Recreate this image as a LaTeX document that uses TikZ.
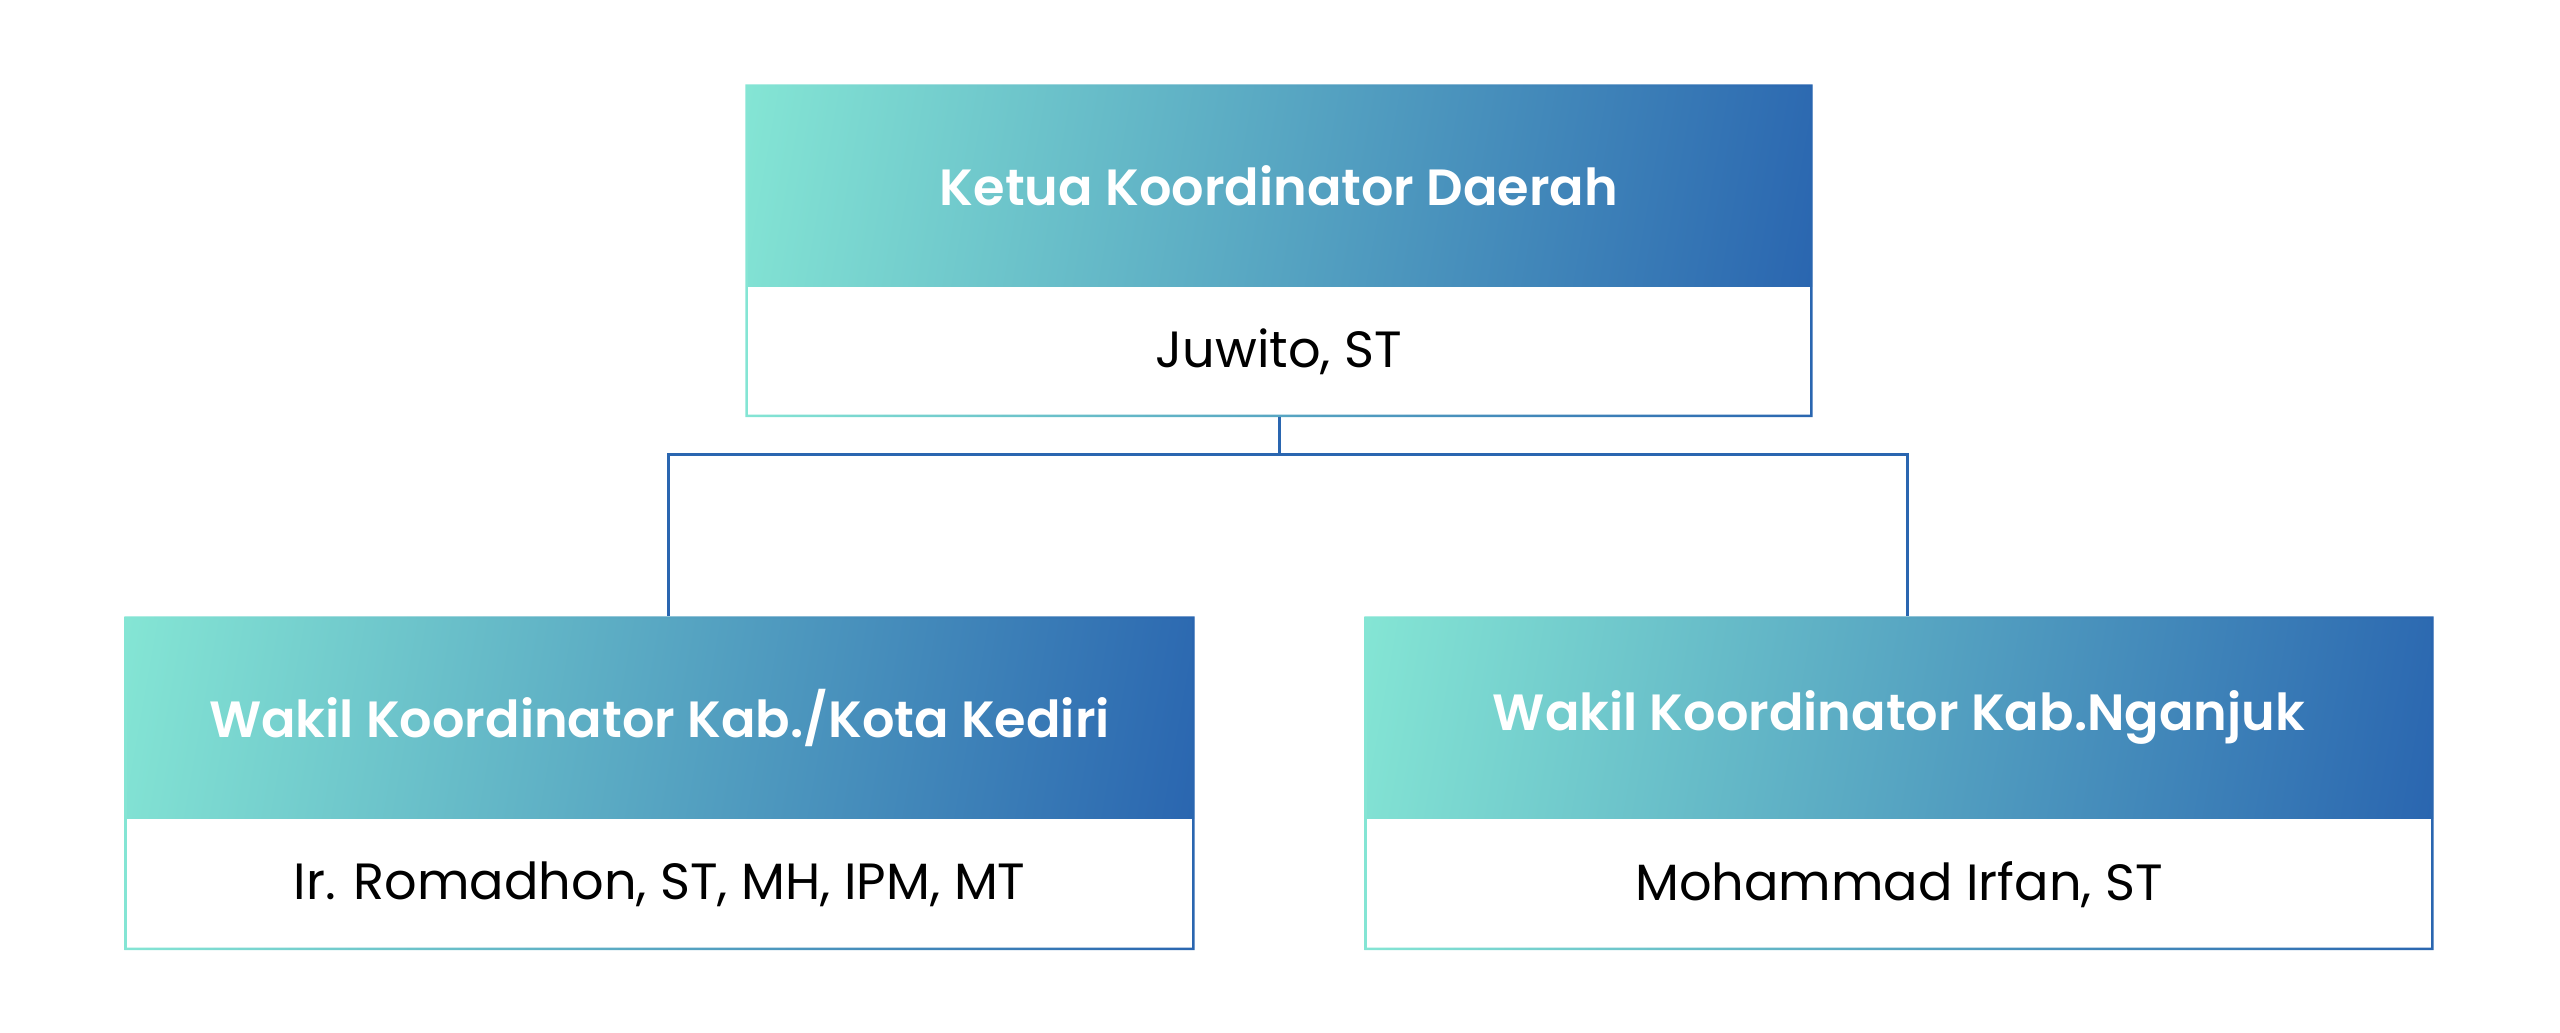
\documentclass[tikz,border=0pt]{standalone}
\usepackage{fontspec}
\setmainfont{Poppins}[BoldFont={Poppins SemiBold}]
\usetikzlibrary{positioning}

\definecolor{tosca}{HTML}{84E5D4}
\definecolor{biru}{HTML}{2A66B0}
\pgfdeclarehorizontalshading{kepala}{100bp}{color(0bp)=(tosca); color(21bp)=(tosca); color(79bp)=(biru); color(100bp)=(biru)}

\tikzset{
  headcell/.style={minimum height=2.01cm, inner sep=0pt, text=white,
    font=\fontsize{14.5}{17}\selectfont\bfseries,
    shading=kepala, shading angle=-10},
  namecell/.style={minimum height=1.30cm, inner sep=0pt, fill=white,
    font=\fontsize{14.5}{17}\selectfont},
  conn/.style={draw=biru, line width=0.03cm},
}

% thin frame round a head cell and the name cell under it
\newcommand{\cellframe}[2]{%
  \path[left color=tosca, right color=biru, shading angle=90, even odd rule]
    (#1.north west) rectangle (#2.south east)
    ([shift={(0.025,-0.025)}]#1.north west) rectangle ([shift={(-0.025,0.025)}]#2.south east);}

\begin{document}
\begin{tikzpicture}
  \useasboundingbox (0,0) rectangle (25.6,-10.32);

  % ketua
  \node[headcell, minimum width=10.66cm] (ketua) at (12.79,-1.855) {Ketua Koordinator Daerah};
  \node[namecell, minimum width=10.66cm, minimum height=1.29cm, below=0pt of ketua] (juwito) {Juwito, ST};
  \cellframe{ketua}{juwito}

  % wakil
  \node[headcell, minimum width=10.69cm] (kediri) at (6.595,-7.175) {Wakil Koordinator Kab./Kota Kediri};
  \node[namecell, minimum width=10.69cm, below=0pt of kediri] (romadhon) {Ir. Romadhon, ST, MH, IPM, MT};
  \cellframe{kediri}{romadhon}

  \node[headcell, minimum width=10.68cm] (nganjuk) at (18.99,-7.175) {Wakil Koordinator Kab.Nganjuk};
  \node[namecell, minimum width=10.68cm, below=0pt of nganjuk] (irfan) {Mohammad Irfan, ST};
  \cellframe{nganjuk}{irfan}

  % garis
  \draw[conn] (juwito.south) -- ++(0,-0.37) coordinate (bus) -| ([xshift=0.085cm]kediri.north);
  \draw[conn] (bus) -| ([xshift=0.085cm]nganjuk.north);
\end{tikzpicture}
\end{document}
